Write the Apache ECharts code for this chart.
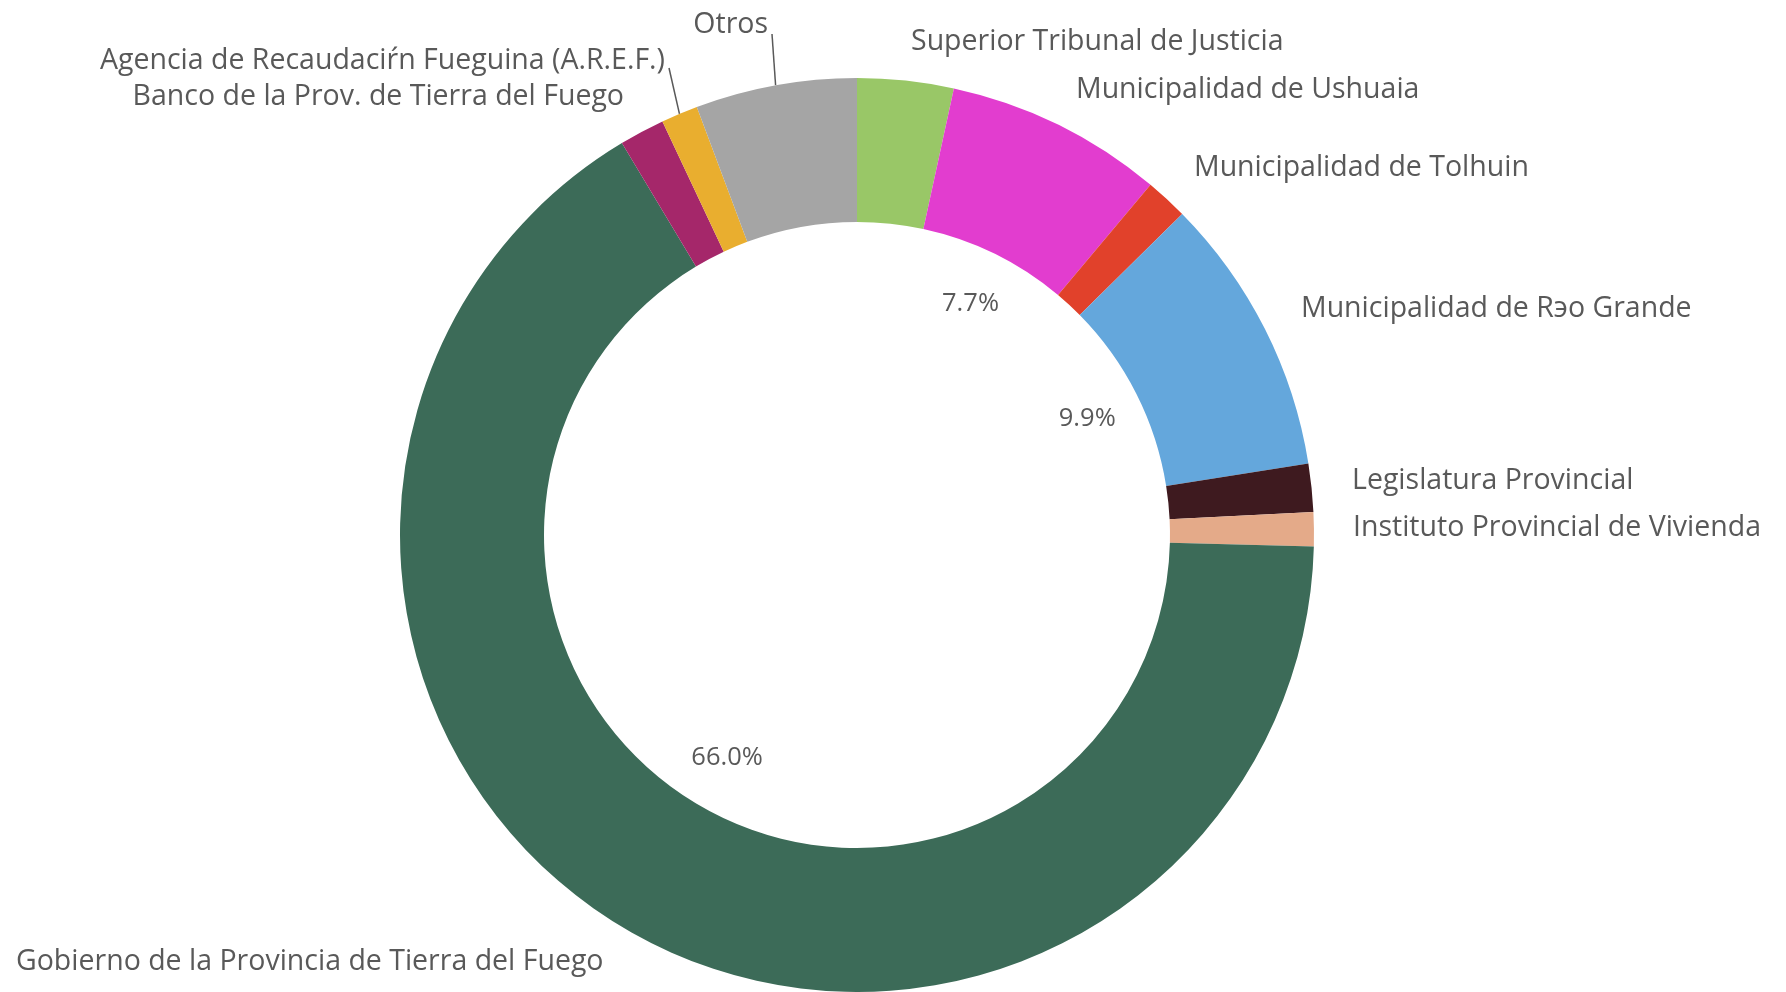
<!DOCTYPE html>
<html>
<head>
<meta charset="utf-8">
<script src="https://cdn.jsdelivr.net/npm/echarts@6/dist/echarts.min.js"></script>
<style>
  html, body { margin: 0; padding: 0; background: #fff; }
  #chart { width: 1786px; height: 992px; }
</style>
</head>
<body>
<div id="chart"></div>
<script>
// categories, clockwise from 12 o'clock
const names = [
  'Superior Tribunal de Justicia',
  'Municipalidad de Ushuaia',
  'Municipalidad de Tolhuin',
  'Municipalidad de R\u044Do Grande',
  'Legislatura Provincial',
  'Instituto Provincial de Vivienda',
  'Gobierno de la Provincia de Tierra del Fuego',
  'Banco de la Prov. de Tierra del Fuego',
  'Agencia de Recaudaci\u0155n Fueguina (A.R.E.F.)',
  'Otros'
]
// share in %
const values = [3.4, 7.7, 1.5, 9.9, 1.7, 1.2, 66.0, 1.6, 1.3, 5.7]

const colors = ['#99c767', '#e23dcf', '#e1412b', '#64a7dc', '#3e1a1f',
  '#e4aa89', '#3c6b58', '#a5276a', '#e9ae2f', '#a5a5a5']

// label placement (x, y, align), same order as names
const labelPos = [
  [911, 42, 'left'], [1076, 90, 'left'], [1194, 168, 'left'], [1301, 309, 'left'],
  [1352, 481, 'left'], [1353, 528, 'left'], [16, 962, 'left'],
  [624, 97, 'right'], [665, 61, 'right'], [768, 25, 'right']
]
// which labels get a leader line, and where it ends
const lineEnd = { 8: [669, 68], 9: [772, 34] }

const cx = 857
const cy = 535
const textColor = '#595959'
const font = '"Open Sans", Roboto, sans-serif'

const chart = echarts.init(document.getElementById('chart'))

chart.setOption({
  animation: false,
  series: [
    {
      type: 'pie',
      center: [cx, cy],
      radius: [313, 457],
      startAngle: 90,
      clockwise: true,
      silent: true,
      data: names.map((n, i) => ({
        name: n,
        value: values[i],
        itemStyle: { color: colors[i] },
        labelLine: { show: lineEnd[i] !== undefined }
      })),
      label: {
        show: true,
        position: 'outside',
        color: textColor,
        fontFamily: font,
        fontSize: 28.5,
        overflow: 'none',
        formatter: '{b}'
      },
      labelLine: {
        lineStyle: { color: '#595959', width: 1.5 }
      },
      labelLayout: function (params) {
        const p = labelPos[params.dataIndex]
        const out = { x: p[0], y: p[1], align: p[2], verticalAlign: 'middle' }
        const end = lineEnd[params.dataIndex]
        if (end && params.labelLinePoints) {
          const s = params.labelLinePoints[0]
          out.labelLinePoints = [s, end, end]
        }
        return out
      }
    },
    {
      // percentage labels inside the hole
      type: 'pie',
      center: [cx, cy],
      radius: [235, 275],
      startAngle: 90,
      clockwise: true,
      silent: true,
      itemStyle: { color: 'rgba(0,0,0,0)' },
      data: names.map((n, i) => ({ name: n, value: values[i] })),
      label: {
        show: true,
        position: 'inside',
        color: textColor,
        fontFamily: font,
        fontSize: 25.5,
        formatter: p => (p.value > 7 ? p.value.toFixed(1) + '%' : '')
      },
      labelLine: { show: false }
    }
  ]
})
</script>
</body>
</html>
